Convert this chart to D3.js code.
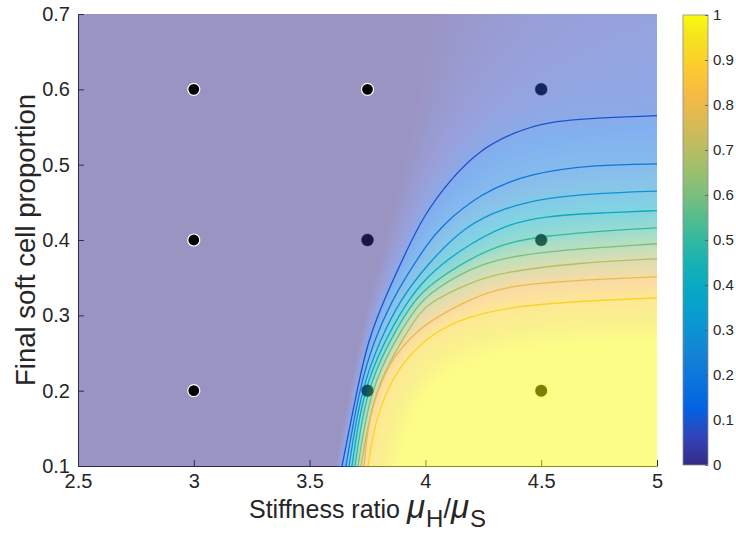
<!DOCTYPE html>
<html><head><meta charset="utf-8">
<script src="https://cdn.jsdelivr.net/npm/d3@7"></script>
<style>
html,body{margin:0;padding:0;background:#fff;}
svg{display:block;font-family:"Liberation Sans",Arial,Helvetica,sans-serif;}
</style></head><body>
<svg id="chart" width="736" height="536"></svg>
<script>
// ---------------- data ----------------
const xTicks = [2.5, 3, 3.5, 4, 4.5, 5];
const xTickLabels = ["2.5", "3", "3.5", "4", "4.5", "5"];
const yTicks = [0.1, 0.2, 0.3, 0.4, 0.5, 0.6, 0.7];
const yTickLabels = ["0.1", "0.2", "0.3", "0.4", "0.5", "0.6", "0.7"];
const cbTicks = [0, 0.1, 0.2, 0.3, 0.4, 0.5, 0.6, 0.7, 0.8, 0.9, 1];
const cbTickLabels = ["0", "0.1", "0.2", "0.3", "0.4", "0.5", "0.6", "0.7", "0.8", "0.9", "1"];

// iso-curves of the field, [stiffness ratio, soft proportion]
const levels = [0, 0.1, 0.2, 0.3, 0.4, 0.5, 0.6, 0.7, 0.8, 0.9, 1];
const curve00 = [[3.610,0.1],[3.674,0.201],[3.731,0.294],[3.791,0.360],[3.847,0.420],[3.912,0.506],[3.968,0.586],[3.998,0.652],[4.011,0.7]];
const curve01 = [[3.640,0.1],[3.705,0.201],[3.752,0.267],[3.830,0.327],[3.921,0.387],[3.990,0.431],[4.106,0.480],[4.236,0.520],[4.383,0.543],[4.525,0.557],[4.741,0.562],[5.0,0.565]];
const curve02 = [[3.657,0.1],[3.713,0.201],[3.778,0.267],[3.856,0.320],[3.934,0.360],[4.003,0.392],[4.063,0.417],[4.236,0.462],[4.452,0.489],[4.741,0.500],[5.0,0.501]];
const curve03 = [[3.670,0.1],[3.722,0.201],[3.804,0.267],[3.890,0.320],[4.003,0.366],[4.171,0.419],[4.344,0.443],[4.525,0.456],[4.741,0.462],[5.0,0.465]];
const curve04 = [[3.683,0.1],[3.731,0.201],[3.826,0.267],[3.912,0.314],[4.003,0.351],[4.149,0.387],[4.344,0.421],[4.525,0.432],[4.754,0.436],[5.0,0.439]];
const curve05 = [[3.696,0.1],[3.744,0.201],[3.847,0.267],[3.934,0.312],[4.003,0.338],[4.193,0.376],[4.344,0.396],[4.503,0.405],[4.754,0.412],[5.0,0.416]];
const curve06 = [[3.709,0.1],[3.761,0.201],[3.869,0.267],[3.942,0.302],[4.003,0.327],[4.193,0.363],[4.344,0.377],[4.581,0.387],[5.0,0.395]];
const curve07 = [[3.722,0.1],[3.778,0.201],[3.899,0.267],[3.955,0.294],[4.003,0.315],[4.193,0.344],[4.344,0.358],[4.668,0.370],[5.0,0.375]];
const curve08 = [[3.735,0.1],[3.752,0.157],[3.795,0.201],[3.847,0.238],[3.925,0.267],[4.003,0.290],[4.201,0.323],[4.344,0.339],[4.668,0.347],[5.0,0.351]];
const curve09 = [[3.752,0.1],[3.782,0.157],[3.834,0.201],[3.903,0.238],[4.003,0.269],[4.128,0.293],[4.344,0.311],[4.668,0.319],[5.0,0.323]];
const curve10 = [[3.890,0.1],[3.934,0.161],[4.011,0.201],[4.128,0.230],[4.344,0.254],[4.668,0.262],[5.0,0.265]];
const curves = [curve00, curve01, curve02, curve03, curve04, curve05, curve06, curve07, curve08, curve09, curve10];
const drawnLevels = [1, 2, 3, 4, 5, 6, 7, 8, 9]; // indices of curves drawn as contour lines

// simulation points
const dotX = [3, 3, 3, 3.75, 3.75, 3.75, 4.5, 4.5, 4.5];
const dotY = [0.6, 0.4, 0.2, 0.6, 0.4, 0.2, 0.6, 0.4, 0.2];
const dotOnTop = [true, true, true, true, false, false, false, false, false];

// parula colormap anchors
const parulaStops = [
 [0.2081,0.1663,0.5292],[0.1959,0.2645,0.7279],[0.0117,0.3875,0.8820],[0.0498,0.4586,0.8641],
 [0.0793,0.5200,0.8312],[0.0343,0.5966,0.8199],[0.0228,0.6535,0.7768],[0.0843,0.6928,0.7062],
 [0.2178,0.7250,0.6193],[0.3953,0.7459,0.5244],[0.5709,0.7485,0.4494],[0.7184,0.7411,0.3905],
 [0.8507,0.7299,0.3360],[0.9739,0.7314,0.2666],[0.9880,0.8066,0.1794],[0.9589,0.8949,0.1132],
 [0.9763,0.9831,0.0538]];
const parulaPos = [0,4,8,12,16,20,24,28,32,36,40,44,48,52,56,60,63].map(r => r / 63);

// ---------------- setup ----------------
const svg = d3.select("#chart");
const X0 = 78, X1 = 657, Y0 = 14, Y1 = 466;
const x = d3.scaleLinear().domain([2.5, 5]).range([X0, X1]);
const y = d3.scaleLinear().domain([0.1, 0.7]).range([Y1, Y0]);
const textCol = "#262626";
const FONT = '"Liberation Sans",Arial,Helvetica,sans-serif';

function parula(t) {
  t = Math.max(0, Math.min(1, t));
  let i = 0;
  while (i < parulaPos.length - 2 && t > parulaPos[i + 1]) i++;
  const u = (t - parulaPos[i]) / (parulaPos[i + 1] - parulaPos[i]);
  const a = parulaStops[i], b = parulaStops[i + 1];
  return [0, 1, 2].map(k => Math.round(255 * (a[k] + (b[k] - a[k]) * u)));
}
const parulaCss = t => { const c = parula(t); return `rgb(${c[0]},${c[1]},${c[2]})`; };

const line = d3.line().x(d => x(d[0])).y(d => y(d[1])).curve(d3.curveBasis);

const defs = svg.append("defs");
defs.append("clipPath").attr("id", "plotClip").append("rect")
  .attr("x", X0).attr("y", Y0).attr("width", X1 - X0).attr("height", Y1 - Y0);

// ---------------- axes (under the translucent surface) ----------------
const gx = svg.append("g").attr("transform", `translate(0,${Y1})`)
  .call(d3.axisBottom(x).tickValues(xTicks).tickFormat((d, i) => xTickLabels[i])
    .tickSize(-6).tickSizeOuter(0).tickPadding(8));
const gy = svg.append("g").attr("transform", `translate(${X0},0)`)
  .call(d3.axisLeft(y).tickValues(yTicks).tickFormat((d, i) => yTickLabels[i])
    .tickSize(-6).tickSizeOuter(0).tickPadding(8));
[gx, gy].forEach(g => {
  g.selectAll("path,line").attr("stroke", textCol).attr("stroke-width", 1);
  g.selectAll("text").attr("fill", textCol).style("font-size", "20px").style("font-family", FONT);
});

// ---------------- field raster ----------------
const tmpG = svg.append("g").attr("visibility", "hidden");
function sampleCurve(pts) {
  const el = tmpG.append("path").attr("d", line(pts)).node();
  const L = el.getTotalLength(), n = 90, out = [];
  for (let i = 0; i <= n; i++) { const p = el.getPointAtLength(L * i / n); out.push([p.x, p.y]); }
  const a = out[0], b = out[1], c = out[n], d = out[n - 1];
  const la = Math.hypot(a[0] - b[0], a[1] - b[1]) || 1, lc = Math.hypot(c[0] - d[0], c[1] - d[1]) || 1;
  const A = [a[0] + (a[0] - b[0]) / la * 1500, a[1] + (a[1] - b[1]) / la * 1500];
  const B = [c[0] + (c[0] - d[0]) / lc * 1500, c[1] + (c[1] - d[1]) / lc * 1500];
  return [A, ...out, B];
}
const samp = curves.map(sampleCurve);
tmpG.remove();
const polys = samp.map(s => {
  const A = s[0], B = s[s.length - 1];
  return [...s, [6000, B[1]], [6000, 6000], [A[0], 6000]];
});
function dist(s, px, py) {
  let best = Infinity;
  for (let i = 0; i < s.length - 1; i++) {
    const ax = s[i][0], ay = s[i][1], bx = s[i + 1][0], by = s[i + 1][1];
    const dx = bx - ax, dy = by - ay;
    let t = ((px - ax) * dx + (py - ay) * dy) / (dx * dx + dy * dy);
    t = Math.max(0, Math.min(1, t));
    const ex = ax + t * dx - px, ey = ay + t * dy - py;
    const d2 = ex * ex + ey * ey;
    if (d2 < best) best = d2;
  }
  return Math.sqrt(best);
}
function fieldAt(px, py) {
  let k = 0;
  while (k < polys.length && d3.polygonContains(polys[k], [px, py])) k++;
  if (k === 0) return 0;
  if (k === polys.length) return 1;
  const da = dist(samp[k - 1], px, py), db = dist(samp[k], px, py);
  return levels[k - 1] + (levels[k] - levels[k - 1]) * da / (da + db);
}
const IW = X1 - X0, IH = Y1 - Y0 + 1;
const canvas = document.createElement("canvas");
canvas.width = IW; canvas.height = IH;
const ctx = canvas.getContext("2d");
const img = ctx.createImageData(IW, IH);
for (let j = 0; j < IH; j++) {
  const py = Y0 + j + 0.5;
  for (let i = 0; i < IW; i++) {
    const px = X0 + i + 0.5;
    const c = parula(fieldAt(px, py));
    const idx = (j * IW + i) * 4;
    img.data[idx] = c[0]; img.data[idx + 1] = c[1]; img.data[idx + 2] = c[2]; img.data[idx + 3] = 128;
  }
}
ctx.putImageData(img, 0, 0);
const url = canvas.toDataURL();

svg.append("image").attr("href", url).attr("x", X0).attr("y", Y0)
  .attr("width", IW).attr("height", IH).attr("preserveAspectRatio", "none");

// ---------------- contour lines ----------------
svg.append("g").attr("clip-path", "url(#plotClip)")
  .selectAll("path").data(drawnLevels).join("path")
  .attr("d", i => line(curves[i]))
  .attr("fill", "none").attr("stroke", i => parulaCss(levels[i])).attr("stroke-width", 1.3);

// ---------------- points under the surface ----------------
const dots = dotX.map((d, i) => ({ x: dotX[i], y: dotY[i], top: dotOnTop[i] }));
const under = dots.filter(d => !d.top), over = dots.filter(d => d.top);
svg.append("g").selectAll("circle").data(under).join("circle")
  .attr("cx", d => x(d.x)).attr("cy", d => y(d.y)).attr("r", 6).attr("fill", "#000");
const cp = defs.append("clipPath").attr("id", "dotClip");
cp.selectAll("circle").data(under).join("circle")
  .attr("cx", d => x(d.x)).attr("cy", d => y(d.y)).attr("r", 6.5);
svg.append("image").attr("href", url).attr("x", X0).attr("y", Y0)
  .attr("width", IW).attr("height", IH).attr("preserveAspectRatio", "none")
  .attr("clip-path", "url(#dotClip)");

// ---------------- points on top ----------------
svg.append("g").selectAll("circle").data(over).join("circle")
  .attr("cx", d => x(d.x)).attr("cy", d => y(d.y)).attr("r", 6)
  .attr("fill", "#000").attr("stroke", "#fff").attr("stroke-width", 1.2);

// ---------------- colorbar ----------------
const CBX = 683, CBW = 25, CBY0 = 15, CBY1 = 465;
const cb = d3.scaleLinear().domain([0, 1]).range([CBY1, CBY0]);
const grad = defs.append("linearGradient").attr("id", "cbGrad")
  .attr("x1", 0).attr("y1", 1).attr("x2", 0).attr("y2", 0);
grad.selectAll("stop").data(d3.range(0, 65)).join("stop")
  .attr("offset", d => d / 64).attr("stop-color", d => parulaCss(d / 64));
svg.append("rect").attr("x", CBX).attr("y", CBY0).attr("width", CBW).attr("height", CBY1 - CBY0)
  .attr("fill", "url(#cbGrad)").attr("stroke", "#8c8c8c").attr("stroke-width", 0.8);
const gcb = svg.append("g").attr("transform", `translate(${CBX + CBW},0)`)
  .call(d3.axisRight(cb).tickValues(cbTicks).tickFormat((d, i) => cbTickLabels[i])
    .tickSize(-3).tickSizeOuter(0).tickPadding(5));
gcb.select(".domain").remove();
gcb.selectAll("line").attr("stroke", "#555").attr("stroke-width", 0.8);
gcb.selectAll("text").attr("fill", textCol).style("font-size", "15px").style("font-family", FONT);

// ---------------- titles ----------------
const xt = svg.append("text").attr("x", (X0 + X1) / 2).attr("y", 518)
  .attr("text-anchor", "middle").attr("fill", textCol).style("font-size", "25px");
xt.append("tspan").text("Stiffness ratio ");
xt.append("tspan").style("font-style", "italic").style("font-size", "33px").text("μ");
xt.append("tspan").style("font-size", "24px").attr("dx", 1).attr("dy", 9).text("H");
xt.append("tspan").style("font-size", "27px").attr("dy", -9).text("/");
xt.append("tspan").style("font-style", "italic").style("font-size", "33px").text("μ");
xt.append("tspan").style("font-size", "24px").attr("dx", 1).attr("dy", 9).text("S");

svg.append("text").attr("transform", `translate(35,${(Y0 + Y1) / 2}) rotate(-90)`)
  .attr("text-anchor", "middle").attr("fill", textCol).style("font-size", "27.5px")
  .text("Final soft cell proportion");
</script>
</body></html>
